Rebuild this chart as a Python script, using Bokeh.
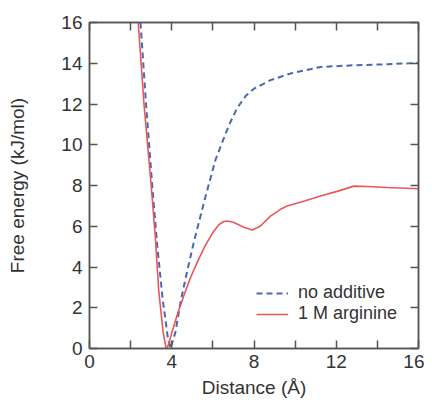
from bokeh.plotting import figure
from bokeh.models import Range1d, LinearAxis, FixedTicker, CustomJSTickFormatter, Legend, LegendItem
from bokeh.embed import file_html
from bokeh.resources import INLINE

# Data
dist_none = [2.48, 2.75, 3.05, 3.3, 3.55, 3.8, 3.94, 4.18, 4.43, 4.75, 5.07, 5.6, 6.13, 6.37,
             6.8, 7.18, 7.6, 8.0, 8.8, 9.78, 11.24, 12.86, 14.5, 16.0]
fe_none = [16.0, 12.0, 8.0, 5.0, 2.5, 0.6, 0.0, 0.81, 2.3, 3.8, 5.2, 7.3, 9.27, 9.9,
           11.0, 11.8, 12.4, 12.75, 13.17, 13.5, 13.82, 13.9, 13.95, 14.02]

dist_arg = [2.37, 2.65, 3.0, 3.2, 3.37, 3.58, 3.72, 3.78, 4.1, 4.3, 4.59, 4.9, 5.24, 5.6, 6.05,
            6.3, 6.5, 6.7, 7.0, 7.5, 7.91, 8.3, 8.8, 9.29, 9.61, 10.5, 11.24, 12.0, 12.86,
            13.5, 14.5, 16.0]
fe_arg = [16.0, 12.0, 8.0, 5.5, 2.8, 0.8, 0.05, 0.0, 1.1, 1.75, 2.6, 3.45, 4.23, 5.0, 5.77,
          6.08, 6.22, 6.26, 6.2, 5.95, 5.82, 6.0, 6.5, 6.83, 6.99, 7.25, 7.48, 7.7, 7.97,
          7.95, 7.9, 7.84]

x_label_ticks = [0, 4, 8, 12, 16]
x_minor_ticks = [2, 6, 10, 14]
y_ticks = [0, 2, 4, 6, 8, 10, 12, 14, 16]

FONT = "Liberation Sans"
TXT = "#333333"
AX = "#555555"
BLUE = "#4a68b0"
RED = "#e8575a"

p = figure(width=424, height=402, output_backend="svg", toolbar_location=None,
           x_range=Range1d(0, 16), y_range=Range1d(0, 16),
           min_border_left=89, min_border_right=6, min_border_top=22, min_border_bottom=54)
p.xgrid.visible = False
p.ygrid.visible = False
p.outline_line_color = AX
p.outline_line_width = 1.5
p.background_fill_color = "white"
p.border_fill_color = "white"

r1 = p.line(dist_none, fe_none, line_color=BLUE, line_width=2, line_dash="6 4")
r2 = p.line(dist_arg, fe_arg, line_color=RED, line_width=1.6)

def style(ax, labels=True):
    ax.axis_line_color = AX
    ax.axis_line_width = 1.5
    ax.major_tick_line_color = AX
    ax.minor_tick_line_color = AX
    ax.major_tick_line_width = 1.5
    ax.minor_tick_line_width = 1.5
    ax.major_tick_in = 8
    ax.major_tick_out = 0
    ax.minor_tick_in = 8
    ax.minor_tick_out = 0
    ax.major_label_text_font = FONT
    ax.major_label_text_font_size = "19px"
    ax.major_label_text_color = TXT
    ax.axis_label_text_font = FONT
    ax.axis_label_text_font_size = "19px"
    ax.axis_label_text_font_style = "normal"
    ax.axis_label_text_color = TXT
    if not labels:
        ax.formatter = CustomJSTickFormatter(code="return ''")
        ax.major_label_text_font_size = "0px"
        ax.major_label_standoff = 0

xb = p.xaxis[0]
xb.ticker = FixedTicker(ticks=x_label_ticks, minor_ticks=x_minor_ticks)
xb.axis_label = "Distance (Å)"
style(xb)
xb.major_label_standoff = 6
xb.axis_label_standoff = 6

yl = p.yaxis[0]
yl.ticker = FixedTicker(ticks=y_ticks)
yl.axis_label = "Free energy (kJ/mol)"
style(yl)
yl.major_label_standoff = 7
yl.axis_label_standoff = 30

xt = LinearAxis(ticker=FixedTicker(ticks=x_label_ticks, minor_ticks=x_minor_ticks))
style(xt, labels=False)
p.add_layout(xt, "above")

yr = LinearAxis(ticker=FixedTicker(ticks=y_ticks))
style(yr, labels=False)
p.add_layout(yr, "right")

legend = Legend(items=[LegendItem(label="no additive", renderers=[r1]),
                       LegendItem(label="1 M arginine", renderers=[r2])],
                location=(167, 24))
legend.label_text_font = FONT
legend.label_text_font_size = "18px"
legend.label_text_color = TXT
legend.glyph_width = 32
legend.glyph_height = 20
legend.label_height = 20
legend.label_standoff = 10
legend.spacing = 0
legend.padding = 0
legend.margin = 0
legend.border_line_color = None
legend.background_fill_alpha = 0
p.add_layout(legend, "center")

open("out.html", "w").write(file_html(p, INLINE))
